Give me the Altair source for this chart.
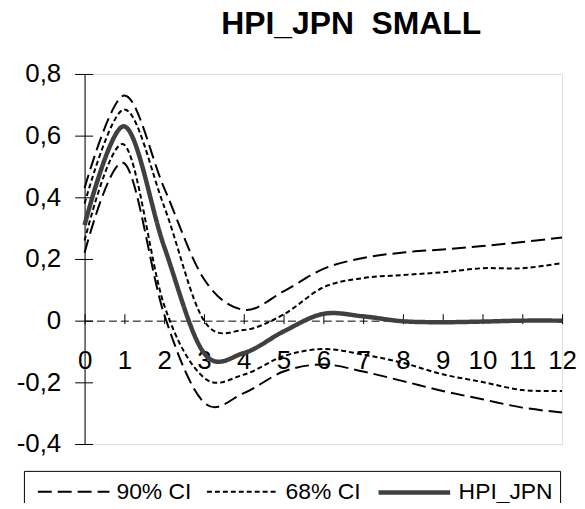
import altair as alt
import pandas as pd

# horizon (x)
t = list(range(13))
# response values
hpi     = [0.31, 0.63, 0.24, -0.105, -0.105, -0.035, 0.022, 0.014, -0.002, -0.005, -0.003, 0.0, 0.0]
ci68_hi = [0.38, 0.685, 0.37, 0.0, -0.03, 0.02, 0.108, 0.138, 0.148, 0.157, 0.17, 0.17, 0.187]
ci68_lo = [0.26, 0.57, 0.05, -0.185, -0.175, -0.115, -0.092, -0.11, -0.137, -0.174, -0.199, -0.225, -0.228]
ci90_hi = [0.43, 0.73, 0.43, 0.135, 0.035, 0.095, 0.168, 0.203, 0.221, 0.231, 0.242, 0.255, 0.27]
ci90_lo = [0.22, 0.51, 0.02, -0.265, -0.235, -0.165, -0.142, -0.165, -0.196, -0.228, -0.255, -0.282, -0.298]

series_names = ["90% CI", "68% CI", "HPI_JPN"]
y_ticks = [-0.4, -0.2, 0.0, 0.2, 0.4, 0.6, 0.8]
title_text = "HPI_JPN\u00a0 SMALL"

rows = []
for name, line, vals in [("90% CI", "90hi", ci90_hi), ("90% CI", "90lo", ci90_lo),
                         ("68% CI", "68hi", ci68_hi), ("68% CI", "68lo", ci68_lo),
                         ("HPI_JPN", "main", hpi)]:
    for ti, v in zip(t, vals):
        rows.append({"t": ti, "value": v, "series": name, "line": line})
df = pd.DataFrame(rows)

W, H = 480, 372
FONT = "Liberation Sans"

xscale = alt.Scale(domain=[0, 12], nice=False, zero=False)
yscale = alt.Scale(domain=[-0.4, 0.8], nice=False, zero=False)

leg = alt.Legend(title=None, orient="none", legendX=-61, legendY=399,
                 direction="horizontal", symbolType="M-3,0H3", symbolSize=576,
                 symbolOffset=30, labelOffset=30,
                 labelFontSize=23, labelFont=FONT, labelColor="black",
                 strokeColor="black", fillColor="white", padding=7,
                 columnPadding=8)

color = alt.Color("series:N", sort=series_names,
                  scale=alt.Scale(domain=series_names, range=["#000000", "#000000", "#404040"]), legend=leg)
dash = alt.StrokeDash("series:N", sort=series_names,
                      scale=alt.Scale(domain=series_names, range=[[14, 6], [5, 3], [1, 0]]), legend=leg)
sw = alt.StrokeWidth("series:N", sort=series_names,
                     scale=alt.Scale(type="ordinal", domain=series_names, range=[2, 2, 4.5]), legend=leg)

xlab_axis = alt.Axis(orient="bottom", offset=-(H / 3), values=t, tickSize=3, tickColor="black",
                     labelPadding=24, labelFontSize=26, labelFont=FONT, labelColor="black",
                     domainColor="black", domainDash=[8, 4], domainWidth=1, title=None,
                     grid=False, labelFlush=False, labelOverlap=False, labelAngle=0)
ylab_axis = alt.Axis(orient="left", values=y_ticks, tickSize=10, tickColor="black",
                     labelPadding=14, labelFontSize=26, labelFont=FONT, labelColor="black",
                     domainColor="black", domainWidth=1, title=None, grid=False,
                     labelExpr="datum.value == 0 ? '0' : replace(replace(format(datum.value, '.1f'), '.', ','), '\u2212', '-')")

ci = alt.Chart(df).transform_filter(alt.datum.series != "HPI_JPN").mark_line(interpolate="cardinal").encode(
    x=alt.X("t:Q", scale=xscale, axis=xlab_axis),
    y=alt.Y("value:Q", scale=yscale, axis=ylab_axis),
    color=color, strokeDash=dash, strokeWidth=sw, detail="line:N",
)
main = alt.Chart(df).transform_filter(alt.datum.series == "HPI_JPN").mark_line(interpolate="cardinal").encode(
    x=alt.X("t:Q", scale=xscale, axis=None),
    y=alt.Y("value:Q", scale=yscale, axis=None),
    color=color, strokeDash=dash, strokeWidth=sw, detail="line:N",
)
ticks = alt.Chart(df).mark_point(opacity=0).encode(
    x=alt.X("t:Q", scale=xscale, axis=alt.Axis(orient="top", offset=-(2 * H / 3), values=t, tickSize=7,
                                               tickColor="black", labels=False, domain=False, title=None, grid=False)),
    y=alt.Y("value:Q", scale=yscale, axis=alt.Axis(orient="right", offset=-W, values=y_ticks, tickSize=8,
                                                   tickColor="black", labels=False, domain=False, title=None, grid=False)),
)

chart = alt.layer(ci, main, ticks).resolve_axis(x="independent", y="independent").properties(
    width=W, height=H,
    title=alt.TitleParams(title_text, fontSize=32, font=FONT, fontWeight="bold", color="black",
                          anchor="middle", frame="group", dx=28, offset=20),
    autosize=alt.AutoSizeParams(type="none"),
    padding={"left": 77, "top": 65, "right": 15, "bottom": 58},
).configure_view(stroke=None).configure(font=FONT)

chart.save("out.html", embed_options={"renderer": "svg", "actions": False})
